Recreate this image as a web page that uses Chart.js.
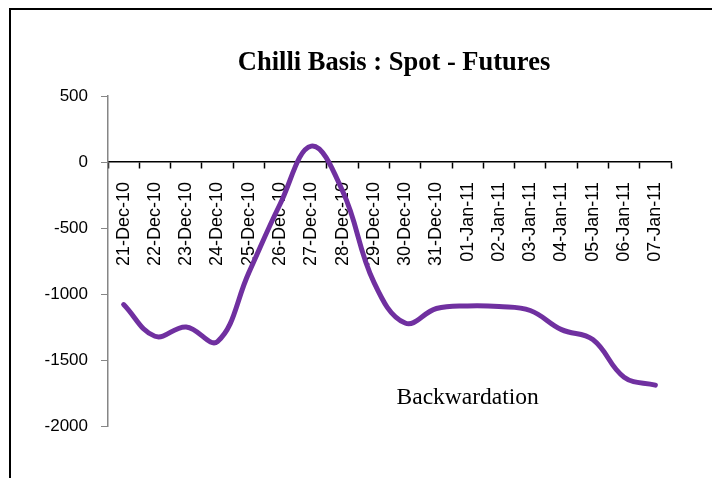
<!DOCTYPE html>
<html>
<head>
<meta charset="utf-8">
<script src="https://cdn.jsdelivr.net/npm/chart.js@4"></script>
<style>
  html, body { margin: 0; padding: 0; background: #fff; overflow: hidden; }
  #wrap { position: relative; width: 712px; height: 478px; }
  #frame { position: absolute; left: 9px; top: 8px; width: 720px; height: 490px; border: 2px solid #000; box-sizing: border-box; }
  canvas { position: absolute; left: 0; top: 0; }
</style>
</head>
<body>
<div id="wrap">
  <div id="frame"></div>
  <canvas id="basis" width="712" height="478"></canvas>
</div>
<script>
const dates = ['21-Dec-10', '22-Dec-10', '23-Dec-10', '24-Dec-10', '25-Dec-10', '26-Dec-10',
  '27-Dec-10', '28-Dec-10', '29-Dec-10', '30-Dec-10', '31-Dec-10', '01-Jan-11',
  '02-Jan-11', '03-Jan-11', '04-Jan-11', '05-Jan-11', '06-Jan-11', '07-Jan-11'];
const basis = [-1080, -1320, -1250, -1360, -840, -320, 120, -220, -910, -1220,
  -1110, -1090, -1095, -1125, -1270, -1345, -1630, -1690];
const yMin = -2000;
const yMax = 500;
const yStep = 500;

const titleText = 'Chilli Basis : Spot - Futures';
const noteText = 'Backwardation';

// title + text box drawn on top of the chart
const textPlugin = {
  id: 'texts',
  afterDraw(chart) {
    const ctx = chart.ctx;
    const x = chart.scales.x;
    const y = chart.scales.y;
    ctx.save();
    ctx.fillStyle = '#000';
    ctx.textAlign = 'center';
    ctx.textBaseline = 'middle';
    ctx.font = 'bold 26.5px "Liberation Serif"';
    ctx.fillText(titleText, 394, 63);
    ctx.font = '23.5px "Liberation Serif"';
    ctx.fillText(noteText, x.getPixelForValue(11), y.getPixelForValue(-1790));
    ctx.restore();
  }
};

const c = document.getElementById('basis');
new Chart(c, {
  type: 'line',
  data: {
    labels: dates,
    datasets: [{
      data: basis,
      borderColor: '#7030A0',
      borderWidth: 5,
      borderCapStyle: 'round',
      borderJoinStyle: 'round',
      pointRadius: 0,
      tension: 0.4,
      fill: false
    }]
  },
  options: {
    responsive: false,
    animation: false,
    layout: { padding: { left: 0, right: 41, top: 96, bottom: 52 } },
    plugins: { legend: { display: false }, tooltip: { enabled: false }, title: { display: false } },
    scales: {
      x: {
        type: 'category',
        position: { y: 0 },
        offset: true,
        grid: { display: true, drawOnChartArea: false, offset: true, tickLength: 6, tickColor: '#000', tickWidth: 1.5 },
        border: { display: true, color: '#000', width: 1.5 },
        ticks: {
          autoSkip: false, minRotation: 90, maxRotation: 90, padding: 14,
          color: '#000', font: { family: '"Liberation Sans"', size: 18 }
        }
      },
      y: {
        min: yMin,
        max: yMax,
        afterFit: s => { s.width = 108; },
        grid: { display: true, drawOnChartArea: false, tickLength: 7, tickColor: '#868686' },
        border: { display: true, color: '#868686', width: 1.5 },
        ticks: {
          stepSize: yStep, padding: 13, color: '#000',
          font: { family: '"Liberation Sans"', size: 17 },
          callback: v => String(v)
        }
      }
    }
  },
  plugins: [textPlugin]
});
</script>
</body>
</html>
